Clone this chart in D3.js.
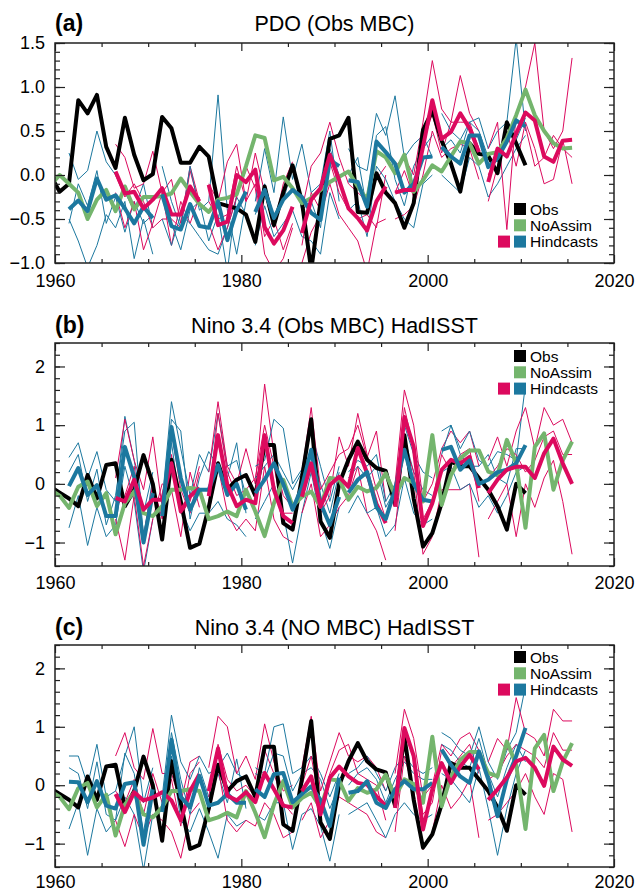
<!DOCTYPE html>
<html>
<head>
<meta charset="utf-8">
<script src="https://cdn.jsdelivr.net/npm/d3@7"></script>
<style>
  body { margin: 0; background: #fff; }
  svg { display: block; font-family: "Liberation Sans", Arial, Helvetica, sans-serif; }
  .tick text { font-size: 18px; fill: #000; }
  .tick line { stroke: #222; stroke-width: 1.2; }
</style>
</head>
<body>
<div id="chart"></div>
<script>
var svgWidth = 644;
var svgHeight = 893;

// x axis
var xTicks = [1960, 1980, 2000, 2020];
var xMinor = [1965, 1970, 1975, 1985, 1990, 1995, 2005, 2010, 2015];
var obsStart = 1959;
var noassimStart = 1959;
var hindStarts = [1961, 1966, 1971, 1976, 1981, 1986, 1991, 1996, 2001, 2006];

// ---------- panel (a) PDO ----------
var obsA = [0.0, -0.19, -0.1, 0.85, 0.7, 0.91, 0.32, 0.08, 0.65, 0.23, -0.06, 0.01, 0.66, 0.53, 0.14, 0.14, 0.32, 0.21,
  -0.32, -0.35, -0.38, -0.45, -0.76, -0.13, -0.57, -0.2, 0.11, -0.3, -1.08, -0.3, 0.41, 0.45, 0.65, -0.42, -0.43,
  0.02, -0.2, -0.32, -0.6, -0.32, 0.51, 0.73, 0.39, 0.13, -0.19, 0.36, 0.24, 0.22, 0.02, 0.6, 0.36, 0.11];
var noassimA = [-0.12, 0.0, -0.1, -0.2, -0.5, -0.28, -0.17, -0.41, -0.13, -0.39, -0.25, -0.25, -0.24, -0.21, -0.04, -0.19,
  -0.33, -0.42, -0.28, -0.26, -0.22, 0.1, 0.45, 0.42, -0.06, -0.02, -0.15, -0.32, -0.26, -0.17, -0.08, -0.02, 0.04, -0.13,
  -0.28, 0.27, 0.2, 0.02, 0.23, -0.19, -0.06, 0.11, 0.04, 0.21, 0.38, 0.36, 0.13, 0.24, 0.26, 0.42, 0.68, 0.97, 0.68, 0.5,
  0.36, 0.3, 0.31];
var hindA = [
  [-0.39, -0.29, -0.41, -0.04, -0.28, -0.23, -0.38, -0.55, -0.36, -0.49],
  [0.04, -0.21, -0.19, -0.38, -0.28, -0.15, -0.45, -0.45, -0.13, -0.30],
  [-0.22, -0.58, -0.62, -0.33, -0.58, -0.6, -0.30, -0.74, -0.4, -0.19],
  [-0.11, -0.57, -0.53, 0.0, -0.08, 0.06, -0.59, -0.78, -0.63, -0.36],
  [-0.42, -0.17, -0.49, -0.28, -0.17, -0.25, -0.43, -0.51, 0.17, 0.1],
  [-0.66, -0.28, -0.15, 0.23, -0.06, -0.38, -0.49, -0.63, -0.3, -0.13],
  [-0.06, -0.08, -0.36, 0.38, 0.26, 0.13, -0.2, -0.1, 0.2, 0.21],
  [-0.2, -0.17, -0.17, 0.32, 0.85, 0.41, 0.49, 0.7, 0.53, 0.26],
  [0.32, 0.21, 0.13, 0.45, 0.45, 0.09, 0.19, 0.38, 0.62, 0.55],
  [-0.08, 0.3, 0.21, 0.47, 0.71, 0.62, 0.21, 0.15, 0.39, 0.4]
];
var membersA = [
  [[0.25, -0.05, 0.05, 0.5, 0.15, 0.0, -0.2, -0.4, -0.1, -0.6], [-0.5, -0.75, -1.05, -0.8, -0.45, -0.6, -0.3, -0.95, -0.5, -0.9], [-0.55, -0.1, -0.35, 0.05, -0.55, -0.25, -0.65, -0.3, -0.55, -0.45]],
  [[0.35, 0.2, -0.15, -0.1, 0.27, -0.2, -0.05, -0.55, 0.1, -0.3], [-0.2, -0.6, -0.3, -0.85, -0.55, -0.2, -0.8, -0.3, -0.55, -0.25], [0.0, -0.25, -0.1, -0.3, -0.6, -0.5, -0.5, -0.6, 0.05, -0.35]],
  [[0.1, -0.3, -0.6, 0.1, -0.4, -0.3, 0.91, -0.4, -0.9, -0.3], [-0.5, -0.8, -0.45, -0.55, -0.7, -0.85, -0.9, -0.6, -0.25, -0.45], [-0.2, -0.55, -0.85, -0.4, -0.3, -0.75, -0.45, -1.1, -0.2, 0.05]],
  [[-0.1, -0.3, 0.15, 0.35, -0.3, 0.25, -0.2, -0.6, -0.1, 0.15], [-0.55, -0.85, -0.6, -0.25, 0.1, -0.15, -0.9, -1.1, -0.95, -0.6], [-0.3, -0.5, -0.45, 0.1, -0.3, -0.1, -0.7, -0.5, -0.85, -0.55]],
  [[-0.3, 0.3, -0.2, 0.66, -0.05, 0.35, -0.2, -0.1, 0.5, -0.3], [-0.8, -0.35, -0.7, -0.55, -0.4, -0.7, -0.75, -0.9, -0.2, -0.5], [-0.45, -0.1, -0.5, -0.3, 0.1, -0.4, -0.3, -0.6, 0.3, 0.0]],
  [[-0.4, 0.1, 0.25, 0.6, 0.2, -0.1, -0.2, -0.3, -0.05, 0.1], [-1.0, -0.65, -0.45, -0.1, -0.45, -0.6, -0.75, -1.1, -0.55, -0.5], [-0.8, -0.2, -0.4, 0.15, -0.2, -0.4, -0.5, -0.45, -0.6, 0.0]],
  [[0.3, 0.1, 0.05, 0.7, 0.45, 0.9, 0.2, 0.35, 0.45, 0.2], [-0.4, -0.3, -0.7, 0.1, -0.05, -0.3, -0.5, -0.6, -0.1, 0.0], [0.0, 0.2, -0.4, 0.45, 0.55, -0.05, -0.35, 0.1, 0.3, 0.45]],
  [[0.1, 0.2, 0.0, 0.6, 1.3, 0.75, 0.6, 1.13, 0.7, 0.5], [-0.5, -0.45, -0.35, 0.0, 0.5, 0.2, 0.3, 0.35, 0.3, -0.05], [-0.2, 0.05, -0.25, 0.35, 0.7, 0.25, 0.6, 0.6, 0.6, 0.3]],
  [[0.7, 0.5, 0.4, 0.6, 0.65, 0.3, 0.5, 0.6, 1.55, 0.5], [0.0, -0.1, -0.2, 0.2, 0.1, -0.25, -0.1, 0.1, 0.3, 0.45], [0.3, 0.4, 0.25, 0.6, 0.5, 0.2, 0.15, 0.5, 0.4, 0.65]],
  [[0.3, 0.6, -0.62, 0.7, 1.0, 1.5, 0.5, 0.3, 0.5, 1.33], [-0.3, 0.1, 0.5, 0.1, 0.6, 0.3, -0.1, -0.05, 0.4, -0.1], [0.0, 0.25, 0.4, 0.6, 0.55, 0.1, 0.2, 0.45, 0.3, 0.2]]
];

// ---------- panels (b) and (c) Nino 3.4 ----------
var obsNino = [-0.05, -0.15, -0.25, -0.38, 0.15, -0.25, 0.32, 0.35, -0.38, -0.1, 0.49, 0.0, -0.95, 0.41, -0.3, -1.09,
  -1.02, -0.4, 0.35, -0.1, 0.07, 0.15, -0.2, 0.66, 0.66, -0.67, -0.78, 0.1, 1.1, -0.64, -0.92, 0.0, 0.41, 0.72, 0.41,
  0.27, 0.22, -0.35, 0.83, -0.25, -1.07, -0.84, -0.33, 0.38, 0.3, 0.3, 0.1, -0.1, -0.38, -0.78, 0.0, -0.16];
var noassimNino = [-0.1, -0.2, -0.41, -0.05, 0.04, -0.38, -0.16, -0.86, -0.33, -0.13, -0.5, -0.55, -0.38, -0.1, -0.1,
  -0.07, -0.1, -0.6, -0.55, -0.47, -0.55, -0.1, -0.47, -0.89, -0.33, 0.07, -0.38, -0.22, -0.13, -0.39, 0.1, 0.08, -0.27,
  -0.05, -0.13, -0.07, 0.18, -0.2, 0.1, 0.02, -0.3, 0.83, -0.36, 0.15, 0.43, 0.57, 0.57, 0.21, 0.15, 0.75, 0.35, -0.75,
  0.63, 0.86, -0.1, 0.4, 0.72];
var hindB = [
  [-0.04, 0.27, -0.19, -0.02, -0.55, -0.55, 0.63, 0.12, -1.0, -0.16],
  [-0.24, -0.3, 0.07, -0.44, -0.27, -0.27, 0.35, -0.47, -0.21, -0.07],
  [-0.55, 0.97, 0.1, -0.44, -0.1, -0.1, 0.32, -0.19, 0.0, -0.44],
  [-0.21, 0.83, -0.02, -0.38, -0.27, -0.33, 0.83, -0.1, -0.55, -0.67],
  [-0.16, 0.07, 0.35, 0.0, -0.44, -0.05, 0.58, -0.33, -0.7, -0.22],
  [-0.22, 0.35, -0.39, -0.02, 0.12, -0.05, 0.61, 0.18, -0.34, -0.67],
  [-0.15, 0.07, 0.2, -0.4, -0.6, -0.1, 0.58, 0.0, -0.27, -0.3],
  [-0.39, 1.14, 0.63, -0.72, -0.33, 0.24, 0.41, 0.35, 0.46, -0.07],
  [0.58, 0.63, 0.24, 0.4, 0.0, 0.07, 0.2, 0.24, 0.35, 0.66],
  [-0.16, 0.07, 0.24, 0.29, 0.29, 0.1, 0.52, 0.77, 0.35, 0.0]
];
var membersB = [
  [[0.45, 0.7, 0.1, 0.55, -0.1, -0.3, 1.15, 0.4, -0.5, 0.2], [-0.75, -0.2, -1.05, -0.4, -0.9, -0.7, 0.3, -0.3, -1.5, -0.6], [0.2, 0.5, -0.3, 0.25, -0.7, -0.2, 0.9, 1.05, -0.9, 0.1]],
  [[0.1, 1.1, 0.4, -0.1, 0.8, -0.4, 0.9, -0.1, -0.5, 0.2], [-0.6, -1.3, -0.2, -1.4, -0.6, 0.0, -0.1, -0.9, 0.2, -0.4], [-0.4, -0.2, 0.3, -0.9, 0.0, -0.6, 0.5, -0.5, -0.3, 0.3]],
  [[-0.3, 1.4, 0.6, -0.2, 0.5, 0.2, 1.2, 0.3, 0.4, -0.2], [-0.9, 0.7, -0.4, -0.8, -0.5, -0.5, -0.3, -0.6, -0.7, -0.9], [-0.4, 1.1, 0.9, -0.6, 0.1, 0.55, 0.3, 0.1, 0.7, -0.5]],
  [[0.2, 1.4, 0.3, 0.0, 0.6, 0.0, 1.7, 0.5, -0.2, -0.4], [-0.5, 0.3, -0.5, -0.8, -0.6, -0.8, 0.3, -0.6, -0.9, -1.0], [-0.3, 1.2, 0.2, -0.2, -0.1, 0.1, 1.0, 0.3, -0.5, -0.5]],
  [[0.3, 0.4, 1.1, 0.95, 0.0, 0.25, 0.9, 0.3, -0.3, 0.3], [-0.6, -0.3, 0.0, -0.5, -1.35, -0.5, 0.2, -0.6, -1.1, -0.4], [0.1, 0.3, 0.5, 0.2, -0.1, 0.2, 0.55, 0.0, -0.5, 0.2]],
  [[0.2, 1.3, -0.1, 0.2, 0.5, 0.6, 1.0, 0.45, 0.9, -0.3], [-0.5, 0.0, -0.9, -0.7, -0.4, -0.2, 0.3, -0.5, -0.8, -1.3], [0.1, 0.6, -0.5, -0.2, 0.8, 0.3, 1.2, 0.5, -0.1, -0.6]],
  [[0.2, 0.4, 0.3, 0.5, -0.3, 0.0, 1.0, 0.5, 0.2, 0.1], [-0.5, -0.2, -0.5, -0.4, -0.9, -0.7, 0.1, -0.5, -0.7, -0.6], [0.1, 0.3, 0.1, 0.3, -0.4, -0.1, 0.8, 0.2, -0.1, -0.2]],
  [[0.0, 1.6, 1.0, -0.3, 0.0, 0.6, 0.9, 0.7, 0.9, 0.3], [-0.8, 0.7, 0.2, -1.2, -0.9, -0.1, -0.1, -0.1, 0.0, -1.25], [-0.3, 1.3, 0.6, -0.6, -0.3, 0.5, 0.2, 0.5, 0.6, -0.3]],
  [[0.9, 1.0, 0.6, 0.9, 0.4, 0.3, 0.55, 0.5, 0.4, 1.7], [0.2, 0.3, -0.1, 0.0, -0.4, -0.2, -0.5, -0.2, 0.2, 0.3], [0.5, 1.0, 0.5, 0.3, 0.3, 0.5, 0.1, 0.0, 0.6, 0.6]],
  [[0.4, 0.8, 0.3, 0.9, 1.3, 0.6, 1.3, 1.0, 1.1, 0.7], [-0.6, -0.3, 0.0, -0.9, 0.0, -0.4, 0.1, 0.4, -0.3, -1.2], [0.1, 0.3, 0.6, 0.5, 0.2, 0.4, 0.8, 0.9, 0.5, 0.5]]
];
var hindC = [
  [0.06, 0.05, -0.29, 0.07, -0.35, -0.4, 0.02, 0.05, -1.02, -0.07],
  [-0.15, -0.46, -0.12, -0.26, -0.21, -0.12, -0.26, -0.6, -0.1, 0.19],
  [-0.46, 0.78, -0.2, -0.38, 0.16, -0.35, -0.3, -0.15, -0.3, -0.3],
  [-0.1, 0.63, -0.18, -0.26, -0.12, -0.29, 0.21, -0.07, -0.35, -0.38],
  [-0.07, -0.2, 0.19, 0.21, -0.29, -0.15, -0.02, -0.25, -0.7, 0.13],
  [-0.1, 0.15, -0.5, 0.13, 0.32, 0.15, 0.04, 0.01, -0.19, -0.35],
  [-0.13, -0.1, 0.07, -0.3, -0.39, -0.07, 0.07, -0.07, -0.07, 0.04],
  [-0.39, 0.98, 0.5, -0.76, -0.07, 0.38, 0.04, 0.32, 0.52, 0.27],
  [0.61, 0.35, 0.15, 0.04, 0.58, 0.1, -0.53, 0.1, 0.5, 0.98],
  [-0.25, -0.07, 0.13, 0.41, 0.47, 0.3, -0.01, 0.66, 0.44, 0.33]
];
var membersC = [
  [[0.5, 0.5, 0.0, 0.7, -0.2, -0.1, 0.5, 1.0, -0.3, 0.3], [-0.75, -0.3, -1.2, -0.4, -0.8, -0.6, -0.2, -0.5, -1.45, -0.5], [0.3, 0.2, -0.4, 0.4, -0.5, -0.6, 0.55, 0.2, -0.8, 0.1]],
  [[0.5, 0.9, 0.3, 0.1, 0.97, 0.2, 0.2, -0.3, 0.4, 0.5], [-0.6, -1.05, -0.5, -0.9, -0.5, -0.6, -0.8, -1.25, -0.5, -0.3], [-0.1, -0.3, 0.1, -0.5, 0.2, -0.3, 0.1, -0.7, 0.2, 0.4]],
  [[-0.2, 1.2, 0.4, 0.1, 0.5, 0.2, 0.3, 0.55, 0.2, 0.1], [-0.9, 0.5, -0.6, -0.8, -0.4, -0.8, -1.25, -0.5, -0.7, -0.6], [-0.4, 0.9, 0.1, -0.5, 0.3, -0.2, 0.2, -0.3, 0.45, -0.4]],
  [[0.3, 1.18, 1.0, 0.2, 0.5, 0.1, 1.05, 0.4, -0.1, 0.0], [-0.5, 0.3, -0.6, -0.8, -0.6, -0.7, -0.3, -0.5, -0.9, -0.8], [-0.2, 0.7, 0.1, -0.1, 0.0, -0.2, 0.6, 0.2, -0.3, -0.5]],
  [[0.3, 0.2, 1.0, 1.05, 0.2, 0.3, 0.5, 0.2, -0.2, 0.2], [-0.5, -0.6, -0.3, -0.3, -1.1, -0.5, -0.4, -0.7, -1.3, -0.5], [0.2, 0.1, 0.55, 0.5, -0.1, 0.2, 0.3, 0.1, -0.4, 0.0]],
  [[0.3, 1.18, -0.1, 0.4, 0.9, 0.5, 0.4, 0.5, 0.3, -0.1], [-0.6, -0.3, -0.9, -0.6, -0.2, -0.3, -0.4, -0.5, -0.8, -0.9], [0.0, 0.5, -0.4, 0.2, 0.6, 0.7, 0.2, 0.1, 0.0, -0.6]],
  [[0.2, 0.3, 0.5, 0.2, -0.1, 0.3, 0.5, 0.3, 0.2, 0.3], [-0.5, -0.4, -0.3, -0.6, -0.9, -0.5, -0.3, -0.5, -0.6, -0.5], [0.0, 0.2, 0.3, 0.1, -0.3, 0.1, 0.4, 0.2, 0.1, 0.1]],
  [[0.2, 1.3, 0.8, -0.2, 0.0, 0.7, 0.5, 0.8, 0.9, 0.6], [-0.8, 0.5, -0.1, -1.1, -0.8, 0.0, -0.4, -0.2, 0.1, -0.9], [-0.2, 0.9, 0.5, -0.5, -0.3, 0.6, 0.3, 0.5, 0.7, 0.2]],
  [[0.9, 0.8, 0.6, 0.5, 1.0, 0.4, 0.1, 0.6, 0.9, 1.7], [0.2, 0.1, -0.1, -0.3, 0.3, -0.4, -1.2, -0.4, 0.2, 0.6], [0.7, 0.6, 0.4, 0.3, 0.8, 0.2, -0.2, 0.3, 0.7, 0.4]],
  [[0.4, 0.8, 0.6, 1.5, 0.9, 0.8, 0.5, 1.3, 1.1, 1.1], [-0.6, -0.5, -0.3, -0.1, 0.2, -0.2, -0.5, 0.2, 0.1, -0.8], [0.1, 0.2, 0.5, 0.7, 0.6, 0.5, 0.3, 0.9, 0.6, 0.6]]
];

var yTicksA = [-1.0, -0.5, 0.0, 0.5, 1.0, 1.5];
var yTicksNino = [-1, 0, 1, 2];
var legendLabels = ["Obs", "NoAssim", "Hindcasts"];

var colObs = "#000000";
var colNoAssim = "#74b56d";
var colPink = "#dc0a5e";
var colBlue = "#1c789f";

var panels = [
  { tag: "(a)", title: "PDO (Obs MBC)", top: 43, bottom: 263, yDomain: [-1.0, 1.5], yTicks: yTicksA, minorStep: 0.1,
    fmt: d3.format(".1f"), obs: obsA, noassim: noassimA, hind: hindA, members: membersA, legendY: 209, titleY: 31, labelPad: 11 },
  { tag: "(b)", title: "Nino 3.4 (Obs MBC) HadISST", top: 343, bottom: 566, yDomain: [-1.4, 2.4], yTicks: yTicksNino, minorStep: 0.2,
    fmt: d3.format("d"), obs: obsNino, noassim: noassimNino, hind: hindB, members: membersB, legendY: 356, titleY: 333, labelPad: 10 },
  { tag: "(c)", title: "Nino 3.4 (NO MBC) HadISST", top: 645, bottom: 867, yDomain: [-1.4, 2.4], yTicks: yTicksNino, minorStep: 0.2,
    fmt: d3.format("d"), obs: obsNino, noassim: noassimNino, hind: hindC, members: membersC, legendY: 657, titleY: 635, labelPad: 8 }
];

var svg = d3.select("#chart").append("svg")
  .attr("width", svgWidth)
  .attr("height", svgHeight);

var xScale = d3.scaleLinear().domain([1960, 2020]).range([55, 614]);

// series given as yearly values starting at a year, plotted mid-year
function toPoints(values, start) {
  return values.map((v, i) => ({ t: start + i + 0.5, v: v }));
}

panels.forEach(function(p, pi) {
  var yScale = d3.scaleLinear().domain(p.yDomain).range([p.bottom, p.top]);
  var line = d3.line().x(d => xScale(d.t)).y(d => yScale(d.v));
  var g = svg.append("g");

  // clip to plot box
  svg.append("clipPath").attr("id", "clip" + pi)
    .append("rect")
    .attr("x", 55).attr("y", p.top)
    .attr("width", 614 - 55).attr("height", p.bottom - p.top);

  var plot = g.append("g").attr("clip-path", `url(#clip${pi})`);

  // thin ensemble members
  p.members.forEach(function(mems, k) {
    mems.forEach(function(m) {
      plot.append("path")
        .datum(toPoints(m, hindStarts[k]))
        .attr("d", line)
        .attr("fill", "none")
        .attr("stroke", k % 2 === 0 ? colBlue : colPink)
        .attr("stroke-width", 1);
    });
  });

  // obs
  plot.append("path")
    .datum(toPoints(p.obs, obsStart))
    .attr("d", line)
    .attr("fill", "none")
    .attr("stroke", colObs)
    .attr("stroke-width", 4)
    .attr("stroke-linejoin", "round");

  // no assimilation
  plot.append("path")
    .datum(toPoints(p.noassim, noassimStart))
    .attr("d", line)
    .attr("fill", "none")
    .attr("stroke", colNoAssim)
    .attr("stroke-width", 4)
    .attr("stroke-linejoin", "round");

  // hindcast ensemble means
  p.hind.forEach(function(h, k) {
    plot.append("path")
      .datum(toPoints(h, hindStarts[k]))
      .attr("d", line)
      .attr("fill", "none")
      .attr("stroke", k % 2 === 0 ? colBlue : colPink)
      .attr("stroke-width", 4)
      .attr("stroke-linejoin", "round");
  });

  // axes, ticks inward on all four sides
  var yMinor = d3.range(p.yDomain[0], p.yDomain[1] + 1e-6, p.minorStep);

  g.append("g").attr("transform", "translate(55,0)")
    .call(d3.axisLeft(yScale).tickValues(yMinor).tickSize(-5).tickFormat(""));
  g.append("g").attr("transform", "translate(55,0)")
    .call(d3.axisLeft(yScale).tickValues(p.yTicks).tickSizeInner(-10).tickSizeOuter(0).tickPadding(10).tickFormat(p.fmt));
  g.append("g").attr("transform", "translate(614,0)")
    .call(d3.axisRight(yScale).tickValues(yMinor).tickSize(-5).tickFormat(""));
  g.append("g").attr("transform", "translate(614,0)")
    .call(d3.axisRight(yScale).tickValues(p.yTicks).tickSize(-10).tickFormat(""));

  g.append("g").attr("transform", `translate(0,${p.bottom})`)
    .call(d3.axisBottom(xScale).tickValues(xMinor).tickSize(-4).tickFormat(""));
  g.append("g").attr("transform", `translate(0,${p.bottom})`)
    .call(d3.axisBottom(xScale).tickValues(xTicks).tickSizeInner(-8).tickSizeOuter(0).tickPadding(p.labelPad).tickFormat(d3.format("d")));
  g.append("g").attr("transform", `translate(0,${p.top})`)
    .call(d3.axisTop(xScale).tickValues(xMinor).tickSize(-4).tickFormat(""));
  g.append("g").attr("transform", `translate(0,${p.top})`)
    .call(d3.axisTop(xScale).tickValues(xTicks).tickSize(-8).tickFormat(""));

  g.selectAll(".domain").remove();

  g.append("rect")
    .attr("x", 55).attr("y", p.top)
    .attr("width", 614 - 55).attr("height", p.bottom - p.top)
    .attr("fill", "none")
    .attr("stroke", "#222")
    .attr("stroke-width", 1.5);

  // titles
  g.append("text")
    .attr("x", 55).attr("y", p.titleY)
    .attr("font-size", 23).attr("font-weight", "bold")
    .text(p.tag);
  g.append("text")
    .attr("x", 334.5).attr("y", p.titleY)
    .attr("text-anchor", "middle")
    .attr("font-size", 21.5)
    .text(p.title);

  // legend
  var leg = g.append("g");
  var rowGap = 16.3;
  var sq = 12;
  leg.append("rect").attr("x", 514).attr("y", p.legendY - sq / 2).attr("width", sq).attr("height", sq).attr("fill", colObs);
  leg.append("rect").attr("x", 514).attr("y", p.legendY + rowGap - sq / 2).attr("width", sq).attr("height", sq).attr("fill", colNoAssim);
  leg.append("rect").attr("x", 498).attr("y", p.legendY + 2 * rowGap - sq / 2).attr("width", sq).attr("height", sq).attr("fill", colPink);
  leg.append("rect").attr("x", 514).attr("y", p.legendY + 2 * rowGap - sq / 2).attr("width", sq).attr("height", sq).attr("fill", colBlue);
  legendLabels.forEach(function(lab, i) {
    leg.append("text")
      .attr("x", 530).attr("y", p.legendY + i * rowGap + 5.5)
      .attr("font-size", 15.5)
      .text(lab);
  });
});
</script>
</body>
</html>
